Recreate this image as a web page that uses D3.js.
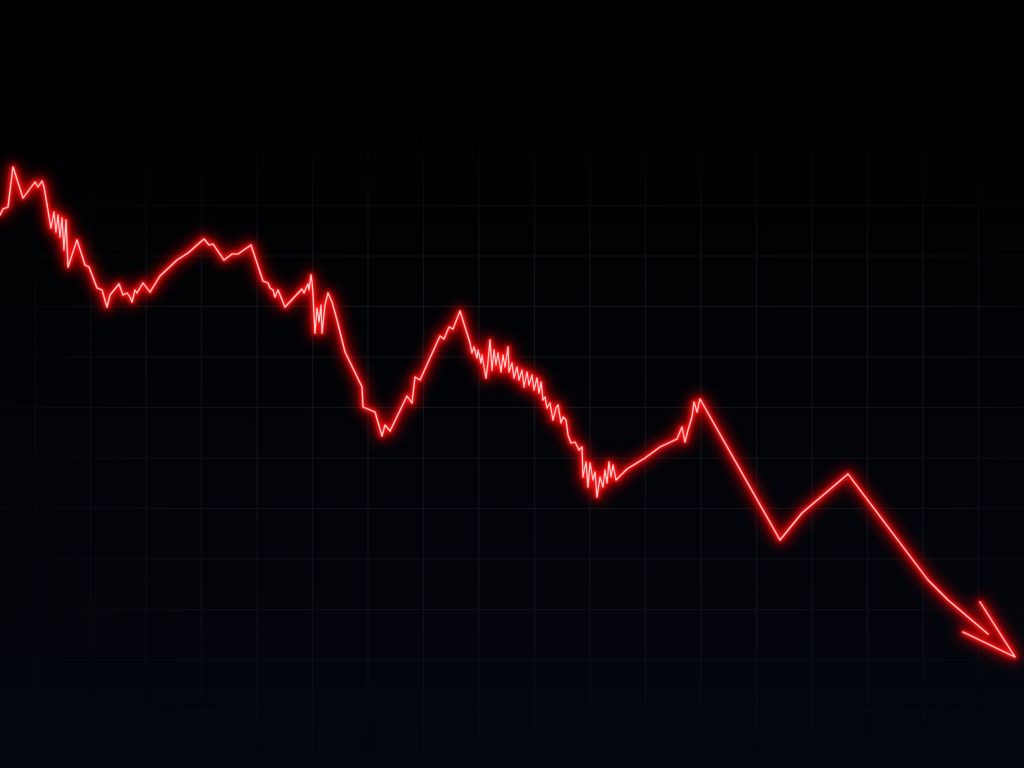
<!DOCTYPE html>
<html>
<head>
	<meta charset="utf-8">
	<title>Falling price line</title>
	<script src="https://d3js.org/d3.v7.min.js"></script>
	<style>
		html, body { margin: 0; padding: 0; background: #000; overflow: hidden; }
		svg { display: block; }
	</style>
</head>
<body>
<div id="chart"></div>
<script type="text/javascript">

	// day index of each reading
	var days = [0, 3, 8, 13, 23, 35, 38, 42, 44, 51, 54, 56, 58, 60, 62, 64, 66, 68, 77, 85,
		89, 97, 102, 107, 110, 119, 123, 127, 130, 132, 135, 137, 143, 150, 160, 177, 188, 204, 209, 213,
		224, 232, 238, 251, 263, 268, 270, 273, 275, 278, 285, 302, 304, 306, 308, 309, 311, 312, 313, 315,
		317, 319, 321, 322, 325, 328, 332, 337, 345, 362, 363, 375, 382, 385, 390, 407, 412, 415, 420, 440,
		444, 449, 453, 460, 470, 472, 474, 477, 478, 481, 482, 486, 488, 490, 492, 494, 496, 498, 501, 503,
		505, 508, 509, 512, 514, 517, 519, 522, 524, 527, 529, 532, 534, 537, 539, 541, 543, 545, 547, 550,
		553, 556, 558, 561, 563, 566, 568, 571, 575, 579, 582, 583, 586, 588, 590, 593, 595, 597, 600, 603,
		605, 607, 609, 611, 613, 616, 627, 645, 660, 677, 682, 685, 688, 692, 694, 697, 700, 780, 802, 848,
		928, 948, 988];

	// price at each reading
	var prices = [585, 591, 593, 633, 602, 618, 613, 619, 613, 572, 588, 568, 585, 563, 582, 550, 580, 533, 560, 535,
		533, 512, 510, 493, 505, 516, 505, 507, 503, 498, 510, 507, 517, 508, 524, 540, 547, 561, 555, 556,
		540, 546, 546, 555, 519, 517, 512, 510, 503, 510, 493, 511, 507, 512, 516, 510, 525, 518, 505, 467,
		492, 478, 495, 467, 495, 507, 498, 480, 448, 413, 393, 388, 364, 375, 369, 404, 397, 423, 420, 464,
		461, 473, 471, 489, 457, 447, 453, 442, 450, 437, 445, 422, 438, 460, 430, 450, 435, 447, 428, 445,
		433, 453, 428, 437, 422, 433, 420, 430, 413, 428, 415, 425, 410, 422, 407, 418, 400, 403, 392, 397,
		380, 392, 395, 377, 383, 380, 365, 357, 358, 350, 353, 323, 338, 313, 337, 320, 328, 303, 323, 313,
		330, 317, 338, 323, 335, 320, 331, 342, 353, 361, 373, 358, 370, 383, 398, 388, 401, 260, 287, 326,
		220, 200, 166];

	// open arrow head at the end of the line: left arm, tip, right arm
	var headDays = [963, 1015, 980];
	var headPrices = [168, 143, 198];

	var width = 1024, height = 768;

	var x = d3.scaleLinear().domain([0, 1024]).range([0, width]);
	var y = d3.scaleLinear().domain([32, 800]).range([height, 0]);

	var svg = d3.select("#chart").append("svg")
		.attr("width", width)
		.attr("height", height);

	var defs = svg.append("defs");

	// background: black at top, faint navy lower down
	var bg = defs.append("linearGradient")
		.attr("id", "bg").attr("x1", 0).attr("y1", 0).attr("x2", 0).attr("y2", 1);
	bg.append("stop").attr("offset", "0%").attr("stop-color", "#000000");
	bg.append("stop").attr("offset", "35%").attr("stop-color", "#010204");
	bg.append("stop").attr("offset", "100%").attr("stop-color", "#04060e");

	// grid fades out toward the top
	var gfade = defs.append("linearGradient")
		.attr("id", "gfade").attr("gradientUnits", "userSpaceOnUse")
		.attr("x1", 0).attr("y1", 110).attr("x2", 0).attr("y2", height);
	gfade.append("stop").attr("offset", "0%").attr("stop-color", "#fff").attr("stop-opacity", 0);
	gfade.append("stop").attr("offset", "25%").attr("stop-color", "#fff").attr("stop-opacity", 1);
	gfade.append("stop").attr("offset", "80%").attr("stop-color", "#fff").attr("stop-opacity", 0.8);
	gfade.append("stop").attr("offset", "100%").attr("stop-color", "#fff").attr("stop-opacity", 0.15);

	defs.append("mask").attr("id", "gmask")
		.append("rect").attr("width", width).attr("height", height).attr("fill", "url(#gfade)");

	// ...and toward the corners
	var gspot = defs.append("radialGradient")
		.attr("id", "gspot").attr("gradientUnits", "userSpaceOnUse")
		.attr("cx", 560).attr("cy", 420).attr("r", 620);
	gspot.append("stop").attr("offset", "0%").attr("stop-color", "#fff").attr("stop-opacity", 1);
	gspot.append("stop").attr("offset", "65%").attr("stop-color", "#fff").attr("stop-opacity", 0.8);
	gspot.append("stop").attr("offset", "100%").attr("stop-color", "#fff").attr("stop-opacity", 0.1);

	defs.append("mask").attr("id", "gmask2")
		.append("rect").attr("width", width).attr("height", height).attr("fill", "url(#gspot)");

	// glow filters
	var wide = defs.append("filter").attr("id", "wide")
		.attr("x", "-10%").attr("y", "-10%").attr("width", "120%").attr("height", "120%");
	wide.append("feGaussianBlur").attr("stdDeviation", 7);

	var soft = defs.append("filter").attr("id", "soft")
		.attr("x", "-10%").attr("y", "-10%").attr("width", "120%").attr("height", "120%");
	soft.append("feGaussianBlur").attr("stdDeviation", 2.6);

	svg.append("rect")
		.attr("width", width)
		.attr("height", height)
		.attr("fill", "url(#bg)");

	// grid
	var grid = svg.append("g").attr("mask", "url(#gmask)")
		.append("g").attr("mask", "url(#gmask2)")
		.attr("stroke", "#15161e")
		.attr("stroke-width", 1.2);

	grid.selectAll("line.v")
		.data(d3.range(35, width, 55.5))
		.enter().append("line")
		.attr("class", "v")
		.attr("x1", function(d){ return d; }).attr("x2", function(d){ return d; })
		.attr("y1", 0).attr("y2", height);

	grid.selectAll("line.h")
		.data(d3.range(155, height, 50.5))
		.enter().append("line")
		.attr("class", "h")
		.attr("x1", 0).attr("x2", width)
		.attr("y1", function(d){ return d; }).attr("y2", function(d){ return d; });

	var series = days.map(function(d, i){ return [d, prices[i]]; });
	var head = headDays.map(function(d, i){ return [d, headPrices[i]]; });

	var line = d3.line()
		.x(function(d){ return x(d[0]); })
		.y(function(d){ return y(d[1]); });

	// each shape gets several passes: wide glow, soft red, red body, light core
	var passes = [
		{ stroke: "#ff0000", width: 9, opacity: 0.7, filter: "url(#wide)" },
		{ stroke: "#ff1414", width: 4.5, opacity: 1, filter: "url(#soft)" },
		{ stroke: "#ff2828", width: 2.6, opacity: 1, filter: null },
		{ stroke: "#ffd0d0", width: 1.2, opacity: 1, filter: null }
	];

	passes.forEach(function(p) {
		var g = svg.append("g")
			.attr("fill", "none")
			.attr("stroke", p.stroke)
			.attr("stroke-width", p.width)
			.attr("stroke-opacity", p.opacity)
			.attr("stroke-linejoin", "round")
			.attr("stroke-linecap", "round");
		if (p.filter) g.attr("filter", p.filter);

		g.append("path").attr("d", line(series));
		g.append("path").attr("d", line(head));
	});

</script>
</body>
</html>
